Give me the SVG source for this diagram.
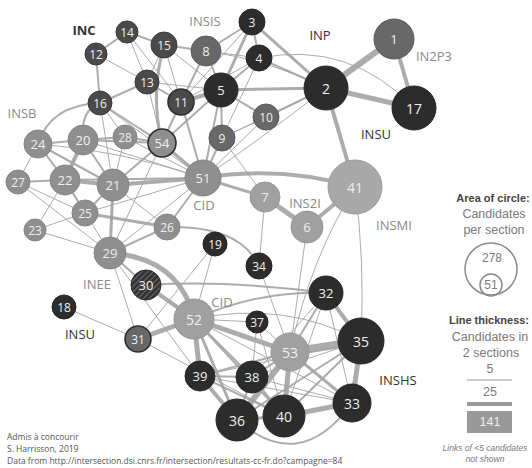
<svg xmlns="http://www.w3.org/2000/svg" width="532" height="468" viewBox="0 0 532 468">
<defs>
<pattern id="hatch" patternUnits="userSpaceOnUse" width="4" height="4" patternTransform="rotate(45)">
<rect width="4" height="4" fill="#333"/>
<line x1="0" y1="0" x2="0" y2="4" stroke="#8a8a8a" stroke-width="1.3"/>
</pattern>
<style>
.e{stroke:#a3a3a3;fill:none;stroke-linecap:round;stroke-opacity:0.9}
.w1{stroke-width:1}.w2{stroke-width:2}.w3{stroke-width:3}.w4{stroke-width:4}.w5{stroke-width:5}.w6{stroke-width:6}.w8{stroke-width:8}
.dk{fill:#2c2c2c;stroke:#262626;stroke-width:1}
.ch{fill:#4a4a4a;stroke:#3a3a3a;stroke-width:1}
.md{fill:#686868;stroke:#5a5a5a;stroke-width:1}
.gb{fill:#8f8f8f;stroke:#858585;stroke-width:1}
.lt{fill:#a0a0a0;stroke:#969696;stroke-width:1}
.ol{stroke:#2e2e2e;stroke-width:1.6}
text{font-family:"Open Sans","Noto Sans",sans-serif}
.t{fill:#f0f0f0;text-anchor:middle;dominant-baseline:central;font-size:13px}
.s{font-size:12px}.b{font-size:14px}
.lab{font-size:13px}
.lg{fill:#8a8a8a}.ld{fill:#333}
#legend text{font-family:"Liberation Sans",Arial,sans-serif}
.leg{text-anchor:middle;fill:#7a7a7a;font-size:12.5px}
.legs{font-size:12px}
.legi{font-size:8.5px;font-style:italic}
.legb{text-anchor:middle;fill:#444;font-size:11px;font-weight:bold}
.foot{fill:#555;font-size:8.5px}
</style>
</defs>
<rect width="532" height="468" fill="#fff"/>
<g id="connectors">
<path class="e w6" d="M326,88 L394,39"/>
<path class="e w5" d="M326,88 L414,108"/>
<path class="e w4" d="M394,39 L414,108"/>
<path class="e w4" d="M326,88 L355,187"/>
<path class="e w4" d="M355,187 L307,227"/>
<path class="e w5" d="M307,227 L265,197"/>
<path class="e w3" d="M265,197 L203,178"/>
<path class="e w4" d="M203,178 Q280,165 355,187"/>
<path class="e w3" d="M221,90 L326,88"/>
<path class="e w4" d="M221,90 L181,102"/>
<path class="e w3" d="M252,22 L221,90"/>
<path class="e w3" d="M252,22 L326,88"/>
<path class="e w2" d="M259,58 L326,88"/>
<path class="e w2" d="M259,58 L221,90"/>
<path class="e w2" d="M252,22 L259,58"/>
<path class="e w2" d="M206,51 L221,90"/>
<path class="e w2" d="M206,51 L252,22"/>
<path class="e w2" d="M206,51 L164,45"/>
<path class="e w1" d="M206,51 L259,58"/>
<path class="e w2" d="M206,51 L181,102"/>
<path class="e w2" d="M164,45 L127,32"/>
<path class="e w2" d="M127,32 L96,54"/>
<path class="e w2" d="M96,54 L100,103"/>
<path class="e w1" d="M127,32 L147,82"/>
<path class="e w1" d="M96,54 L147,82"/>
<path class="e w2" d="M147,82 L100,103"/>
<path class="e w1" d="M147,82 L164,45"/>
<path class="e w2" d="M147,82 L181,102"/>
<path class="e w1" d="M147,82 L221,90"/>
<path class="e w1" d="M164,45 L221,90"/>
<path class="e w1" d="M164,45 L181,102"/>
<path class="e w3" d="M164,45 Q150,95 162,143"/>
<path class="e w1" d="M127,32 L181,102"/>
<path class="e w2" d="M100,103 L162,143"/>
<path class="e w1" d="M100,103 L125,137"/>
<path class="e w2" d="M100,103 Q80,110 83,140"/>
<path class="e w2" d="M100,103 Q50,105 38,144"/>
<path class="e w1" d="M100,103 L113,185"/>
<path class="e w1" d="M100,103 L203,178"/>
<path class="e w1" d="M147,82 L162,143"/>
<path class="e w2" d="M181,102 L162,143"/>
<path class="e w2" d="M181,102 L203,178"/>
<path class="e w2" d="M221,90 L203,178"/>
<path class="e w2" d="M221,90 L162,143"/>
<path class="e w2" d="M221,90 L222,138"/>
<path class="e w2" d="M221,90 L266,117"/>
<path class="e w2" d="M222,138 L203,178"/>
<path class="e w2" d="M266,117 L326,88"/>
<path class="e w1" d="M266,117 L222,138"/>
<path class="e w1" d="M266,117 L203,178"/>
<path class="e w1" d="M222,138 L265,197"/>
<path class="e w1" d="M259,58 L222,138"/>
<path class="e w1" d="M259,58 L181,102"/>
<path class="e w1" d="M326,88 Q260,140 203,178"/>
<path class="e w1" d="M326,88 L222,138"/>
<path class="e w1" d="M252,22 L181,102"/>
<path class="e w1" d="M259,58 Q350,40 414,108"/>
<path class="e w1" d="M206,51 Q270,60 326,88"/>
<path class="e w2" d="M83,140 L38,144"/>
<path class="e w4" d="M83,140 L65,180"/>
<path class="e w2" d="M83,140 L113,185"/>
<path class="e w2" d="M83,140 L125,137"/>
<path class="e w2" d="M83,140 L162,143"/>
<path class="e w2" d="M65,180 L18,182"/>
<path class="e w4" d="M65,180 L113,185"/>
<path class="e w2" d="M65,180 L38,144"/>
<path class="e w1" d="M38,144 L18,182"/>
<path class="e w2" d="M38,144 L113,185"/>
<path class="e w4" d="M113,185 L203,178"/>
<path class="e w2" d="M113,185 L162,143"/>
<path class="e w1" d="M113,185 L125,137"/>
<path class="e w2" d="M113,185 L85,213"/>
<path class="e w3" d="M113,185 L110,253"/>
<path class="e w1" d="M113,185 L167,227"/>
<path class="e w2" d="M65,180 L85,213"/>
<path class="e w1" d="M85,213 L35,230"/>
<path class="e w3" d="M85,213 L167,227"/>
<path class="e w1" d="M85,213 L203,178"/>
<path class="e w1" d="M85,213 L18,182"/>
<path class="e w1" d="M35,230 L110,253"/>
<path class="e w1" d="M18,182 L110,253"/>
<path class="e w1" d="M65,180 L110,253"/>
<path class="e w1" d="M35,230 L65,180"/>
<path class="e w2" d="M167,227 L203,178"/>
<path class="e w2" d="M110,253 L167,227"/>
<path class="e w1" d="M110,253 L203,178"/>
<path class="e w3" d="M162,143 L203,178"/>
<path class="e w1" d="M125,137 L203,178"/>
<path class="e w1" d="M83,140 L203,178"/>
<path class="e w1" d="M38,144 Q120,150 203,178"/>
<path class="e w2" d="M65,180 L203,178"/>
<path class="e w1" d="M162,143 L110,253"/>
<path class="e w2" d="M125,137 L162,143"/>
<path class="e w2" d="M167,227 Q240,225 259,266"/>
<path class="e w2" d="M110,253 L146,285"/>
<path class="e w5" d="M110,253 Q180,258 194,319"/>
<path class="e w4" d="M146,285 L194,319"/>
<path class="e w1" d="M110,253 L138,339"/>
<path class="e w1" d="M110,253 L200,376"/>
<path class="e w1" d="M215,244 L194,319"/>
<path class="e w1" d="M215,244 L138,339"/>
<path class="e w1" d="M138,339 L64,307"/>
<path class="e w5" d="M138,339 L194,319"/>
<path class="e w1" d="M138,339 L284,416"/>
<path class="e w1" d="M265,197 L259,266"/>
<path class="e w1" d="M307,227 L290,352"/>
<path class="e w1" d="M355,187 Q365,260 361,341"/>
<path class="e w1" d="M355,187 Q310,260 290,352"/>
<path class="e w5" d="M194,319 L200,376"/>
<path class="e w5" d="M194,319 L290,352"/>
<path class="e w3" d="M194,319 L237,420"/>
<path class="e w2" d="M194,319 L252,377"/>
<path class="e w2" d="M194,319 L284,416"/>
<path class="e w1" d="M194,319 L257,322"/>
<path class="e w2" d="M194,319 Q260,290 326,293"/>
<path class="e w1" d="M194,319 Q285,300 361,341"/>
<path class="e w2" d="M146,285 Q230,280 326,293"/>
<path class="e w8" d="M290,352 L361,341"/>
<path class="e w5" d="M290,352 L284,416"/>
<path class="e w6" d="M290,352 L237,420"/>
<path class="e w2" d="M290,352 L252,377"/>
<path class="e w3" d="M290,352 L352,403"/>
<path class="e w2" d="M290,352 L326,293"/>
<path class="e w2" d="M290,352 L200,376"/>
<path class="e w1" d="M290,352 L257,322"/>
<path class="e w5" d="M361,341 L352,403"/>
<path class="e w4" d="M361,341 L326,293"/>
<path class="e w2" d="M361,341 L284,416"/>
<path class="e w2" d="M361,341 L237,420"/>
<path class="e w1" d="M361,341 L252,377"/>
<path class="e w1" d="M361,341 L200,376"/>
<path class="e w5" d="M284,416 L352,403"/>
<path class="e w3" d="M284,416 L237,420"/>
<path class="e w2" d="M284,416 L252,377"/>
<path class="e w2" d="M284,416 L200,376"/>
<path class="e w4" d="M237,420 L200,376"/>
<path class="e w2" d="M237,420 L252,377"/>
<path class="e w2" d="M237,420 Q300,475 352,403"/>
<path class="e w2" d="M200,376 L252,377"/>
<path class="e w1" d="M200,376 L352,403"/>
<path class="e w1" d="M326,293 L352,403"/>
<path class="e w1" d="M326,293 L284,416"/>
<path class="e w1" d="M326,293 L252,377"/>
<path class="e w1" d="M259,266 L290,352"/>
<path class="e w1" d="M257,322 L252,377"/>
<path class="e w1" d="M257,322 L284,416"/>
<path class="e w1" d="M252,377 L352,403"/>
<path class="e w1" d="M194,319 L352,403"/>
</g>
<g id="n1"><circle cx="394" cy="39" r="20" class="md"/><text x="394" y="39" class="t">1</text></g>
<g id="n2"><circle cx="326" cy="88" r="22" class="dk"/><text x="326" y="88" class="t b">2</text></g>
<g id="n3"><circle cx="252" cy="22" r="13" class="dk"/><text x="252" y="22" class="t s">3</text></g>
<g id="n4"><circle cx="259" cy="58" r="13" class="dk"/><text x="259" y="58" class="t s">4</text></g>
<g id="n5"><circle cx="221" cy="90" r="17" class="dk"/><text x="221" y="90" class="t">5</text></g>
<g id="n6"><circle cx="307" cy="227" r="16" class="lt"/><text x="307" y="227" class="t">6</text></g>
<g id="n7"><circle cx="265" cy="197" r="15" class="lt"/><text x="265" y="197" class="t">7</text></g>
<g id="n8"><circle cx="206" cy="51" r="15" class="md"/><text x="206" y="51" class="t">8</text></g>
<g id="n9"><circle cx="222" cy="138" r="13" class="md"/><text x="222" y="138" class="t s">9</text></g>
<g id="n10"><circle cx="266" cy="117" r="13" class="md"/><text x="266" y="117" class="t s">10</text></g>
<g id="n11"><circle cx="181" cy="102" r="13" class="ch ol"/><text x="181" y="102" class="t s">11</text></g>
<g id="n12"><circle cx="96" cy="54" r="11" class="ch"/><text x="96" y="54" class="t s">12</text></g>
<g id="n13"><circle cx="147" cy="82" r="12" class="ch"/><text x="147" y="82" class="t s">13</text></g>
<g id="n14"><circle cx="127" cy="32" r="11" class="ch"/><text x="127" y="32" class="t s">14</text></g>
<g id="n15"><circle cx="164" cy="45" r="13" class="ch"/><text x="164" y="45" class="t s">15</text></g>
<g id="n16"><circle cx="100" cy="103" r="12" class="ch"/><text x="100" y="103" class="t s">16</text></g>
<g id="n17"><circle cx="414" cy="108" r="22" class="dk"/><text x="414" y="108" class="t b">17</text></g>
<g id="n18"><circle cx="64" cy="307" r="12" class="dk"/><text x="64" y="307" class="t s">18</text></g>
<g id="n19"><circle cx="215" cy="244" r="12" class="dk"/><text x="215" y="244" class="t s">19</text></g>
<g id="n20"><circle cx="83" cy="140" r="15" class="gb"/><text x="83" y="140" class="t">20</text></g>
<g id="n21"><circle cx="113" cy="185" r="16" class="gb"/><text x="113" y="185" class="t">21</text></g>
<g id="n22"><circle cx="65" cy="180" r="15" class="gb"/><text x="65" y="180" class="t">22</text></g>
<g id="n23"><circle cx="35" cy="230" r="11" class="gb"/><text x="35" y="230" class="t s">23</text></g>
<g id="n24"><circle cx="38" cy="144" r="14" class="gb"/><text x="38" y="144" class="t">24</text></g>
<g id="n25"><circle cx="85" cy="213" r="13" class="gb"/><text x="85" y="213" class="t s">25</text></g>
<g id="n26"><circle cx="167" cy="227" r="13" class="gb"/><text x="167" y="227" class="t s">26</text></g>
<g id="n27"><circle cx="18" cy="182" r="12" class="gb"/><text x="18" y="182" class="t s">27</text></g>
<g id="n28"><circle cx="125" cy="137" r="12" class="gb"/><text x="125" y="137" class="t s">28</text></g>
<g id="n29"><circle cx="110" cy="253" r="16" class="gb"/><text x="110" y="253" class="t">29</text></g>
<g id="n30"><circle cx="146" cy="285" r="15" fill="url(#hatch)" stroke="#2a2a2a" stroke-width="1"/><text x="146" y="285" class="t">30</text></g>
<g id="n31"><circle cx="138" cy="339" r="13" class="md ol"/><text x="138" y="339" class="t s">31</text></g>
<g id="n32"><circle cx="326" cy="293" r="17" class="dk"/><text x="326" y="293" class="t">32</text></g>
<g id="n33"><circle cx="352" cy="403" r="19" class="dk"/><text x="352" y="403" class="t b">33</text></g>
<g id="n34"><circle cx="259" cy="266" r="13" class="dk"/><text x="259" y="266" class="t s">34</text></g>
<g id="n35"><circle cx="361" cy="341" r="23" class="dk"/><text x="361" y="341" class="t b">35</text></g>
<g id="n36"><circle cx="237" cy="420" r="21" class="dk"/><text x="237" y="420" class="t b">36</text></g>
<g id="n37"><circle cx="257" cy="322" r="11" class="dk"/><text x="257" y="322" class="t s">37</text></g>
<g id="n38"><circle cx="252" cy="377" r="16" class="dk"/><text x="252" y="377" class="t">38</text></g>
<g id="n39"><circle cx="200" cy="376" r="15" class="dk"/><text x="200" y="376" class="t">39</text></g>
<g id="n40"><circle cx="284" cy="416" r="21" class="dk"/><text x="284" y="416" class="t b">40</text></g>
<g id="n41"><circle cx="355" cy="187" r="27" fill="#a8a8a8" stroke="#9c9c9c" stroke-width="1"/><text x="355" y="187" class="t b">41</text></g>
<g id="n51"><circle cx="203" cy="178" r="18" class="gb"/><text x="203" y="178" class="t">51</text></g>
<g id="n52"><circle cx="194" cy="319" r="20" class="lt" stroke="#555"/><text x="194" y="319" class="t b">52</text></g>
<g id="n53"><circle cx="290" cy="352" r="19" class="lt" stroke="#555"/><text x="290" y="352" class="t b">53</text></g>
<g id="n54"><circle cx="162" cy="143" r="14" class="gb ol"/><text x="162" y="143" class="t">54</text></g>
<g id="labels">
<text x="84" y="35" class="lab ld" text-anchor="middle" font-weight="bold">INC</text>
<text x="205" y="26" class="lab lg" text-anchor="middle">INSIS</text>
<text x="320" y="40" class="lab ld" text-anchor="middle">INP</text>
<text x="434" y="61" class="lab lg" text-anchor="middle">IN2P3</text>
<text x="376" y="139" class="lab ld" text-anchor="middle">INSU</text>
<text x="22" y="118" class="lab lg" text-anchor="middle">INSB</text>
<text x="204" y="210" class="lab lg" text-anchor="middle">CID</text>
<text x="305" y="208" class="lab lg" text-anchor="middle">INS2I</text>
<text x="394" y="230" class="lab lg" text-anchor="middle">INSMI</text>
<text x="97" y="289" class="lab lg" text-anchor="middle">INEE</text>
<text x="222" y="307" class="lab lg" text-anchor="middle">CID</text>
<text x="80" y="339" class="lab ld" text-anchor="middle">INSU</text>
<text x="398" y="385" class="lab ld" text-anchor="middle">INSHS</text>
</g>
<g id="legend">
<text x="493" y="202" class="legb">Area of circle:</text>
<text x="494" y="218" class="leg">Candidates</text>
<text x="494" y="234" class="leg">per section</text>
<circle cx="491" cy="269" r="26" fill="none" stroke="#8a8a8a" stroke-width="1.5"/>
<text x="492" y="262" class="leg legs">278</text>
<circle cx="491" cy="285" r="11" fill="none" stroke="#8a8a8a" stroke-width="1.5"/>
<text x="491" y="289" class="leg legs">51</text>
<text x="489" y="324" class="legb">Line thickness:</text>
<text x="490" y="341" class="leg">Candidates in</text>
<text x="491" y="357" class="leg">2 sections</text>
<text x="490" y="373" class="leg">5</text>
<line x1="467" y1="380" x2="512" y2="380" stroke="#999" stroke-width="1"/>
<text x="490" y="396" class="leg">25</text>
<rect x="467" y="402" width="45" height="4" fill="#999"/>
<rect x="467" y="411" width="45" height="22" fill="#999"/>
<text x="490" y="426" class="leg" style="fill:#f0f0f0">141</text>
<text x="485" y="451" class="leg legi">Links of &lt;5 candidates</text>
<text x="485" y="462" class="leg legi">not shown</text>
</g>
<g id="footer">
<text x="7" y="440" class="foot">Admis à concourir</text>
<text x="7" y="452" class="foot">S. Harrisson, 2019</text>
<text x="7" y="464" class="foot">Data from http://intersection.dsi.cnrs.fr/intersection/resultats-cc-fr.do?campagne=84</text>
</g>
</svg>
